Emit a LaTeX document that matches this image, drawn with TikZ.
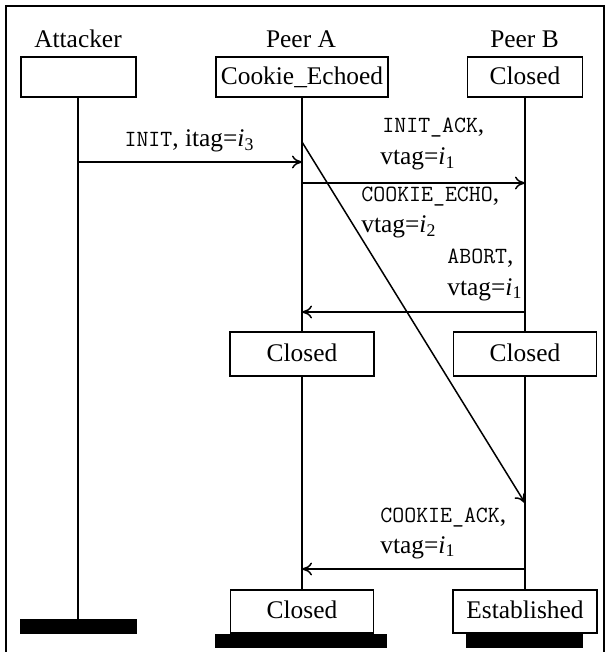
\documentclass[tikz,border=0pt]{standalone}
\usepackage{fontspec}
\setmainfont{Liberation Serif}
\usetikzlibrary{arrows.meta}
% typewriter chunk names and tag values
\newcommand\chunk[1]{{\fontsize{11.6pt}{13pt}\selectfont\ttfamily #1}}
\newcommand\tagval[2]{\textit{#1}\textsubscript{#2}}
\tikzset{
  statebox/.style={draw, line width=0.55pt, inner sep=0pt, text height=8.2pt, text depth=1pt},
  endbar/.style={fill=black, draw=none, inner sep=0pt},
  lifeline/.style={line width=1pt},
  msg/.style={line width=0.75pt, -{To[length=5pt,width=6.5pt]}},
  lbl/.style={inner sep=0pt, anchor=base west},
}
\begin{document}
\begin{tikzpicture}[x=0.5pt, y=-0.5pt, font=\fontsize{12.7pt}{14pt}\selectfont]
\useasboundingbox (0,0) rectangle (606,652);
% outer frame, open at the bottom
\draw[line width=0.55pt] (6,652) -- (6,6) -- (604,6) -- (604,652);

% participants
\node[anchor=base] (attName) at (78,48) {Attacker};
\node[anchor=base] (aName) at (301,48) {Peer A};
\node[anchor=base] (bName) at (524.5,48) {Peer B};

\node[statebox, minimum width=57.5pt, minimum height=20pt] (attHead) at (78.5,77) {};
\node[statebox, minimum width=86pt, minimum height=20pt] (aHead) at (302,77) {Cookie\_Echoed};
\node[statebox, minimum width=57.5pt, minimum height=20pt] (bHead) at (525,77) {Closed};

\node[statebox, minimum width=72pt, minimum height=22pt] (aMid) at (302,354) {Closed};
\node[statebox, minimum width=71.5pt, minimum height=22pt] (bMid) at (525,354) {Closed};

\node[statebox, minimum width=71.5pt, minimum height=21.5pt] (aEnd) at (302,611.5) {Closed};
\node[statebox, minimum width=72pt, minimum height=21.5pt] (bEnd) at (525,611.5) {Established};

\node[endbar, minimum width=58.5pt, minimum height=7.5pt] (attBar) at (78.5,626.5) {};
\node[endbar, minimum width=86pt, minimum height=7pt] (aBar) at (301,641) {};
\node[endbar, minimum width=58.5pt, minimum height=7pt] (bBar) at (524.5,641) {};

% lifelines
\coordinate (attTop) at (78,97);
\coordinate (attBot) at (78,619);
\draw[lifeline] (attTop) -- (attBot);
\draw[lifeline] (aHead.south) -- (aMid.north);
\draw[lifeline] (aMid.south) -- (aEnd.north);
\draw[lifeline] (bHead.south) -- (bMid.north);
\draw[lifeline] (bMid.south) -- (bEnd.north);

% message end points on the lifelines
\coordinate (initS) at (78,162);
\coordinate (initE) at (302,162);
\coordinate (ackS) at (302,183);
\coordinate (ackE) at (525,183);
\coordinate (echoS) at (302,142);
\coordinate (echoE) at (525,503);
\coordinate (abortS) at (525,312);
\coordinate (abortE) at (302,312);
\coordinate (cackS) at (525,569);
\coordinate (cackE) at (302,569);

\draw[msg] (initS) -- (initE);
\draw[msg] (ackS) -- (ackE);
\draw[msg] (echoS) -- (echoE);
\draw[msg] (abortS) -- (abortE);
\draw[msg] (cackS) -- (cackE);

% message labels
\node[inner sep=0pt, anchor=base] (initLbl) at (189.5,147) {\chunk{INIT}, itag=\tagval{i}{3}};
\node[lbl] (ackLbl1) at (382,133) {\chunk{INIT\_ACK},};
\node[lbl] (ackLbl2) at (380,165) {vtag=\tagval{i}{1}};
\node[lbl] (echoLbl1) at (361,202) {\chunk{COOKIE\_ECHO},};
\node[lbl] (echoLbl2) at (361,233) {vtag=\tagval{i}{2}};
\node[lbl] (abortLbl1) at (447,263) {\chunk{ABORT},};
\node[lbl] (abortLbl2) at (447,295) {vtag=\tagval{i}{1}};
\node[lbl] (cackLbl1) at (380,522) {\chunk{COOKIE\_ACK},};
\node[lbl] (cackLbl2) at (380,553) {vtag=\tagval{i}{1}};
\end{tikzpicture}
\end{document}
